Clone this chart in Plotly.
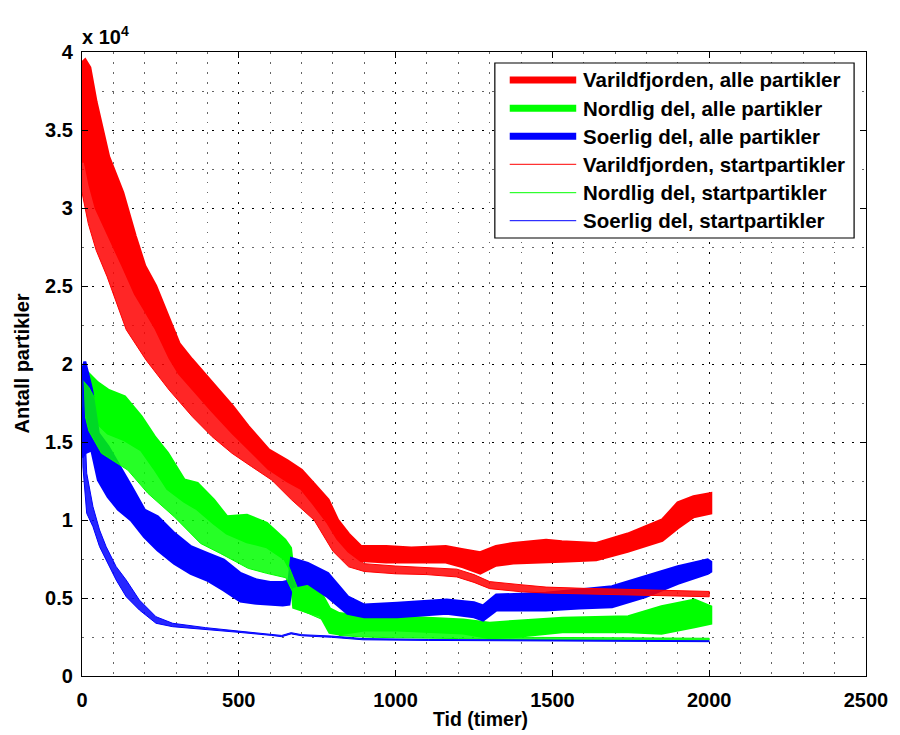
import plotly.graph_objects as go

# ---------------- data ----------------
# Varildfjorden, alle partikler  (oscillating band: upper / lower envelope)
R_x  = [0, 10, 25, 45, 85, 130, 170, 200, 235, 280, 310, 350, 415, 480, 530, 595, 655, 700, 740, 785, 815, 850, 890, 970, 1050, 1160, 1215, 1270, 1320, 1375, 1480, 1530, 1640, 1740, 1850, 1900, 1950, 2005]
R_hi = [39300, 39500, 39000, 36800, 33300, 31000, 28200, 26300, 25000, 22800, 21300, 20300, 18800, 17300, 16000, 14500, 13800, 13200, 12300, 11300, 10000, 9100, 8300, 8300, 8200, 8300, 8100, 7900, 8300, 8500, 8700, 8600, 8500, 9100, 10000, 11100, 11500, 11700]
R_lo = [33000, 33000, 31500, 30000, 28300, 26300, 24500, 23500, 22300, 20400, 19400, 18500, 17000, 15600, 14600, 13300, 12500, 12000, 11000, 9800, 8800, 8000, 7400, 7300, 7300, 7300, 7000, 6600, 7100, 7240, 7300, 7350, 7450, 8000, 8700, 9500, 10200, 10450]

# Nordlig del, alle partikler
G_x  = [0, 20, 50, 83, 136, 189, 231, 273, 326, 368, 420, 462, 526, 589, 647, 665, 675, 720, 760, 790, 820, 900, 1005, 1100, 1216, 1300, 1374, 1532, 1742, 1848, 1953, 2005]
G_hi = [19000, 19400, 18800, 18330, 17900, 16620, 15340, 14280, 12560, 12350, 11280, 10210, 10300, 9790, 8720, 8200, 6400, 5800, 5400, 4300, 4000, 3800, 3800, 3700, 3590, 3380, 3500, 3700, 3800, 4440, 4870, 4440]
G_lo = [17000, 17260, 16200, 15560, 15130, 14490, 13300, 12000, 11200, 10700, 9800, 9150, 8600, 8290, 7500, 6800, 4400, 4100, 3900, 2800, 2700, 2950, 2950, 2850, 2760, 2450, 2520, 2840, 2840, 2740, 3160, 3380]

# Soerlig del, alle partikler
B_x  = [0, 9, 31, 52, 83, 115, 157, 199, 241, 294, 347, 399, 452, 505, 557, 600, 640, 660, 668, 720, 784, 847, 900, 1005, 1163, 1250, 1279, 1321, 1479, 1585, 1690, 1795, 1900, 1995, 2005]
B_hi = [19500, 20150, 18330, 15560, 14700, 13630, 12140, 10640, 10210, 9150, 8290, 7860, 7440, 6580, 6150, 6000, 6000, 6100, 7540, 7220, 6580, 5080, 4550, 4660, 4870, 4700, 4500, 5190, 5300, 5510, 5720, 6370, 7010, 7440, 7300]
B_lo = [14000, 14300, 14490, 12560, 11490, 10700, 10000, 8930, 8080, 7220, 6580, 6150, 5510, 4800, 4660, 4600, 4550, 4600, 5720, 5940, 5080, 4020, 3800, 3800, 4020, 3800, 3590, 4230, 4230, 4360, 4440, 5080, 5940, 6580, 6700]

# Varildfjorden, startpartikler
RS_x  = [0, 20, 45, 80, 141, 204, 278, 352, 415, 478, 541, 605, 668, 740, 800, 850, 900, 1000, 1100, 1195, 1250, 1300, 1400, 1480, 1600, 1740, 1850, 2000]
RS_hi = [33500, 32000, 30500, 28800, 26500, 23500, 21000, 19500, 17800, 16300, 15000, 14000, 13000, 11500, 9300, 8000, 7200, 7050, 6950, 6850, 6500, 6050, 5850, 5700, 5620, 5550, 5500, 5420]
RS_lo = [31000, 29000, 27300, 25600, 22200, 20260, 18330, 16620, 15340, 14280, 13420, 12560, 11300, 10000, 8000, 7000, 6700, 6550, 6500, 6350, 6000, 5600, 5400, 5320, 5250, 5200, 5150, 5080]

# Nordlig del, startpartikler
GS_x  = [0, 22, 62, 146, 210, 294, 378, 441, 530, 589, 650, 700, 780, 820, 900, 1000, 1200, 1300, 1400, 1600, 1800, 2000]
GS_hi = [19000, 18500, 17000, 16000, 14500, 12500, 11000, 10000, 9000, 8500, 7500, 5000, 4000, 3200, 3000, 2950, 2750, 2550, 2480, 2450, 2430, 2420]
GS_lo = [17500, 15700, 14280, 13200, 11710, 10210, 8500, 7860, 6900, 6580, 6300, 4200, 3500, 2600, 2500, 2450, 2400, 2350, 2330, 2310, 2300, 2300]

# Soerlig del, startpartikler
BS_x  = [0, 3, 15, 35, 56, 77, 109, 141, 183, 236, 289, 394, 499, 605, 637, 667, 700, 796, 896, 1106, 1500, 2000]
BS_hi = [19000, 19000, 13000, 10850, 9360, 8290, 7010, 6150, 4870, 3800, 3380, 3100, 2880, 2680, 2600, 2780, 2650, 2560, 2400, 2340, 2300, 2260]
BS_lo = [17000, 13400, 10430, 9570, 8290, 7440, 6150, 5080, 4230, 3380, 3160, 3000, 2800, 2600, 2520, 2700, 2580, 2480, 2320, 2280, 2230, 2200]

legend_labels = ["Varildfjorden, alle partikler", "Nordlig del, alle partikler", "Soerlig del, alle partikler",
                 "Varildfjorden, startpartikler", "Nordlig del, startpartikler", "Soerlig del, startpartikler"]

x_ticks = [0, 500, 1000, 1500, 2000, 2500]
y_ticks = [0, 5000, 10000, 15000, 20000, 25000, 30000, 35000, 40000]
y_ticktext = ["0", "0.5", "1", "1.5", "2", "2.5", "3", "3.5", "4"]

# ---------------- figure ----------------
RED, GREEN, BLUE = "#ff0000", "#00ff00", "#0000ff"
FONT = "Liberation Sans, Arial, sans-serif"

fig = go.Figure()

def band(x, hi, lo, color, fillcolor, lw):
    fig.add_trace(go.Scatter(
        x=list(x) + list(x)[::-1], y=list(hi) + list(lo)[::-1],
        mode="lines", fill="toself", fillcolor=fillcolor,
        line=dict(color=color, width=lw, shape="linear"),
        hoverinfo="skip", showlegend=False))

band(R_x, R_hi, R_lo, RED, RED, 3)
band(G_x, G_hi, G_lo, GREEN, GREEN, 3)
band(B_x, B_hi, B_lo, BLUE, BLUE, 3)
band(RS_x, RS_hi, RS_lo, RED, "rgba(255,0,0,0.85)", 1)
band(GS_x, GS_hi, GS_lo, GREEN, "rgba(0,255,0,0.85)", 1)
band(BS_x, BS_hi, BS_lo, BLUE, "rgba(0,0,255,0.85)", 1)

# plot area in pixels
L, R, T, B = 82, 872, 52, 676
W, H = R - L, B - T
def px(xp):
    return (xp - L) / W
def py(yp):
    return (B - yp) / H

axis_common = dict(
    showline=True, linecolor="black", linewidth=1.2, mirror="ticks",
    ticks="inside", ticklen=6, tickwidth=1, tickcolor="black",
    showgrid=True, gridcolor="black", gridwidth=1.3, griddash="2px,8px",
    zeroline=False,
    tickfont=dict(family=FONT, size=20, color="black", weight="bold"),
)

fig.update_xaxes(range=[0, 2500], tickvals=x_ticks, ticktext=[str(v) for v in x_ticks],
                 ticklabelstandoff=6,
                 minor=dict(dtick=100, tick0=0, showgrid=True, gridcolor="#666666", gridwidth=1,
                            griddash="1.5px,8.5px", ticks=""),
                 **axis_common)
fig.update_yaxes(range=[0, 40000], tickvals=y_ticks, ticktext=y_ticktext,
                 ticklabelstandoff=4,
                 minor=dict(dtick=2500, tick0=0, showgrid=True, gridcolor="#666666", gridwidth=1,
                            griddash="1.5px,8.5px", ticks=""),
                 **axis_common)

shapes = []
annotations = []

# legend (drawn manually to match MATLAB geometry)
shapes.append(dict(type="rect", xref="paper", yref="paper",
                   x0=px(498), x1=px(860), y0=py(238), y1=py(63),
                   line=dict(color="black", width=1.2), fillcolor="white", layer="above"))
rows = [80, 108.3, 136.3, 164.3, 192.7, 220.7]
colors = [RED, GREEN, BLUE, RED, GREEN, BLUE]
widths = [7, 7, 7, 1, 1, 1]
for lab, rowy, c, w in zip(legend_labels, rows, colors, widths):
    shapes.append(dict(type="line", xref="paper", yref="paper",
                       x0=px(513), x1=px(580), y0=py(rowy), y1=py(rowy),
                       line=dict(color=c, width=w), layer="above"))
    annotations.append(dict(xref="paper", yref="paper", x=px(585), y=py(rowy),
                            xanchor="left", yanchor="middle", showarrow=False, text=lab,
                            font=dict(family=FONT, size=20.5, color="black", weight="bold")))

# axis titles and exponent label
annotations.append(dict(xref="paper", yref="paper", x=px(484), y=py(719), xanchor="center", yanchor="middle",
                        showarrow=False, text="Tid (timer)",
                        font=dict(family=FONT, size=19.5, color="black", weight="bold")))
annotations.append(dict(xref="paper", yref="paper", x=px(22), y=py(363), xanchor="center", yanchor="middle",
                        showarrow=False, text="Antall partikler", textangle=-90,
                        font=dict(family=FONT, size=20, color="black", weight="bold")))
annotations.append(dict(xref="paper", yref="paper", x=px(80), y=py(35), xanchor="left", yanchor="middle",
                        showarrow=False, text="x 10<sup>4</sup>",
                        font=dict(family=FONT, size=20, color="black", weight="bold")))

fig.update_layout(
    width=900, height=735,
    margin=dict(l=L, r=900 - R, t=T, b=735 - B, pad=0),
    paper_bgcolor="white", plot_bgcolor="white",
    showlegend=False,
    shapes=shapes, annotations=annotations,
    font=dict(family=FONT, color="black"),
)

fig.write_html("out.html")
